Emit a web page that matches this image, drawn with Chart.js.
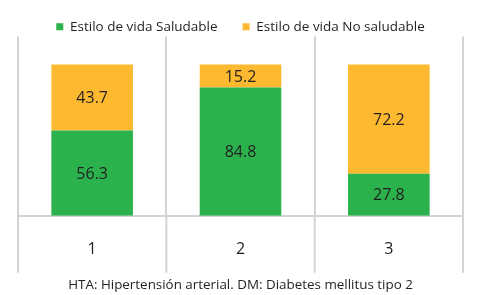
<!DOCTYPE html>
<html>
<head>
<meta charset="utf-8">
<script src="https://cdn.jsdelivr.net/npm/chart.js@4/dist/chart.umd.min.js"></script>
<style>
  html, body { margin: 0; padding: 0; background: #fff; }
  #wrap { width: 485px; height: 295px; }
</style>
</head>
<body>
<div id="wrap"><canvas id="lifeChart"></canvas></div>
<script>
const categories = ['1', '2', '3'];
const saludable = [56.3, 84.8, 27.8];
const noSaludable = [43.7, 15.2, 72.2];
const caption = 'HTA: Hipertensión arterial. DM: Diabetes mellitus tipo 2';

const textColor = '#231f20';
const gridColor = '#d3d3d3';

// legend keeps its wide item gap but takes less vertical room
const tightLegend = {
    id: 'tightLegend',
    afterInit(chart) {
        const legend = chart.legend;
        const fit = legend.fit;
        legend.fit = function () {
            fit.call(this);
            this.height -= 7;
        };
        legend.draw = function () {
            if (this.options.display) this._draw();
        };
    }
};

// writes the value in the middle of each bar segment
const valueLabels = {
    id: 'valueLabels',
    afterDatasetsDraw(chart) {
        const ctx = chart.ctx;
        ctx.save();
        ctx.font = '16px "Open Sans"';
        ctx.fillStyle = textColor;
        ctx.textAlign = 'center';
        ctx.textBaseline = 'middle';
        chart.data.datasets.forEach((ds, i) => {
            chart.getDatasetMeta(i).data.forEach((bar, j) => {
                const mid = (bar.y + bar.base) / 2;
                ctx.fillText(ds.data[j].toFixed(1), bar.x, mid + 1);
            });
        });
        ctx.restore();
    }
};

// carries the category dividers down through the label row
const dividers = {
    id: 'dividers',
    afterDraw(chart) {
        const x = chart.scales.x;
        const ctx = chart.ctx;
        const area = chart.chartArea;
        const step = x.width / categories.length;
        ctx.save();
        ctx.strokeStyle = gridColor;
        ctx.lineWidth = 2;
        for (let i = 0; i <= categories.length; i++) {
            const px = x.left + i * step;
            ctx.beginPath();
            ctx.moveTo(px, area.bottom);
            ctx.lineTo(px, area.bottom + 57);
            ctx.stroke();
        }
        ctx.restore();
    }
};

new Chart(document.getElementById('lifeChart').getContext('2d'), {
    type: 'bar',
    data: {
        labels: categories,
        datasets: [
            {
                label: 'Estilo de vida Saludable',
                data: saludable,
                backgroundColor: '#2bb24c',
                barPercentage: 0.55,
                categoryPercentage: 1
            },
            {
                label: 'Estilo de vida No saludable',
                data: noSaludable,
                backgroundColor: '#fdb92f',
                barPercentage: 0.55,
                categoryPercentage: 1
            }
        ]
    },
    options: {
        responsive: true,
        maintainAspectRatio: false,
        animation: false,
        layout: { padding: { left: 18, right: 22, top: -5, bottom: 2 } },
        plugins: {
            legend: {
                labels: {
                    color: textColor,
                    font: { family: '"Open Sans"', size: 13.5 },
                    boxWidth: 7,
                    boxHeight: 7,
                    padding: 25
                }
            },
            tooltip: { enabled: false }
        },
        scales: {
            x: {
                stacked: true,
                grid: {
                    offset: true,
                    color: gridColor,
                    lineWidth: 2,
                    drawTicks: false
                },
                border: { color: gridColor, width: 2 },
                ticks: {
                    color: textColor,
                    font: { family: '"Open Sans"', size: 16 },
                    padding: 24
                },
                title: {
                    display: true,
                    text: caption,
                    color: textColor,
                    font: { family: '"Open Sans"', size: 13.4 },
                    padding: { top: -6, bottom: 0 }
                }
            },
            y: {
                stacked: true,
                display: false,
                min: 0,
                max: 118.5
            }
        }
    },
    plugins: [tightLegend, valueLabels, dividers]
});
</script>
</body>
</html>
